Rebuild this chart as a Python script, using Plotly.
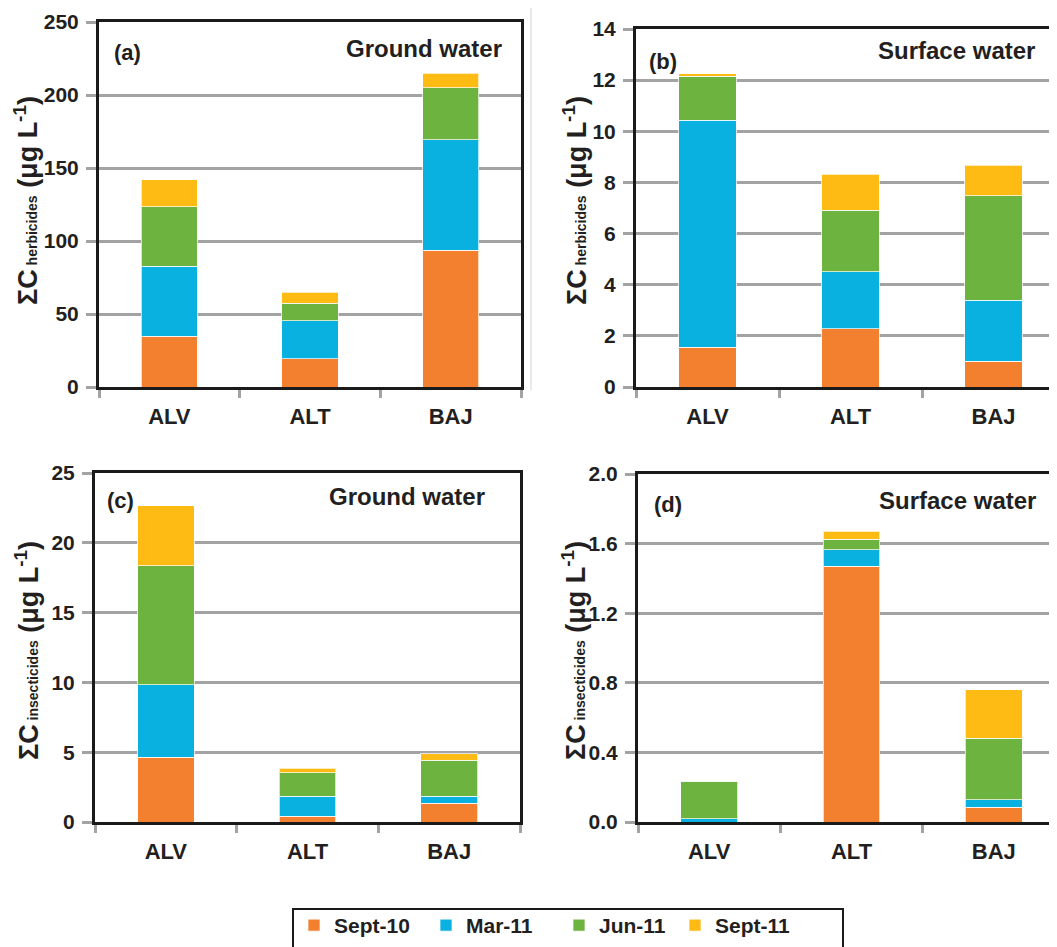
import plotly.graph_objects as go

W, H = 1057, 947
OFF = 8  # page body margin offset of the rendered figure

sites = ["ALV", "ALT", "BAJ"]
campaigns = ["Sept-10", "Mar-11", "Jun-11", "Sept-11"]
colors = ["#F3802F", "#08B1DF", "#6DB33F", "#FDBB14"]

# (a) herbicides, ground water
herb_gw_sep10 = [34.7, 19.2, 93.8]
herb_gw_mar11 = [47.9, 26.2, 75.4]
herb_gw_jun11 = [40.9, 12.1, 35.8]
herb_gw_sep11 = [18.5, 7.3, 9.8]
# (b) herbicides, surface water
herb_sw_sep10 = [1.56, 2.27, 1.00]
herb_sw_mar11 = [8.87, 2.23, 2.39]
herb_sw_jun11 = [1.72, 2.41, 4.08]
herb_sw_sep11 = [0.10, 1.41, 1.20]
# (c) insecticides, ground water
ins_gw_sep10 = [4.63, 0.40, 1.33]
ins_gw_mar11 = [5.21, 1.45, 0.52]
ins_gw_jun11 = [8.51, 1.69, 2.57]
ins_gw_sep11 = [4.30, 0.31, 0.48]
# (d) insecticides, surface water
ins_sw_sep10 = [0.0, 1.47, 0.086]
ins_sw_mar11 = [0.02, 0.094, 0.042]
ins_sw_jun11 = [0.215, 0.06, 0.353]
ins_sw_sep11 = [0.0, 0.046, 0.279]

panels = [
    dict(series=[herb_gw_sep10, herb_gw_mar11, herb_gw_jun11, herb_gw_sep11],
         label="(a)", water="Ground water", ymax=250, dtick=50, fmt="d",
         yname="herbicides"),
    dict(series=[herb_sw_sep10, herb_sw_mar11, herb_sw_jun11, herb_sw_sep11],
         label="(b)", water="Surface water", ymax=14, dtick=2, fmt="d",
         yname="herbicides"),
    dict(series=[ins_gw_sep10, ins_gw_mar11, ins_gw_jun11, ins_gw_sep11],
         label="(c)", water="Ground water", ymax=25, dtick=5, fmt="d",
         yname="insecticides"),
    dict(series=[ins_sw_sep10, ins_sw_mar11, ins_sw_jun11, ins_sw_sep11],
         label="(d)", water="Surface water", ymax=2.0, dtick=0.4, fmt=".1f",
         yname="insecticides"),
]

def px(x):
    return (x - OFF) / W

def py(y):
    return 1 - (y - OFF) / H

# layout geometry (screen pixels)
geo = [
    dict(x0=99, x1=521, y0=22, y1=387, xr=[-0.5, 2.5], mirror_y=True,
         lab=(112, 52), wat=(504, 48), ytit=(26, 201)),
    dict(x0=636, x1=W + OFF, y0=29, y1=387, xr=[-0.5, 2.5], mirror_y=False,
         lab=(647, 61), wat=(1037, 51), ytit=(575, 201)),
    dict(x0=95, x1=520, y0=473, y1=822, xr=[-0.5, 2.5], mirror_y=True,
         lab=(105, 500), wat=(487, 496), ytit=(27, 651)),
    dict(x0=638, x1=W + OFF, y0=474, y1=822, xr=[-0.5, 2.5], mirror_y=False,
         lab=(652, 504), wat=(1038, 501), ytit=(574, 651)),
]
legend_widths = [87, 88, 71, 82]

FONT = "Liberation Sans, Arial, sans-serif"
TXT = "#231F20"
GRID = "#A3A3A3"

fig = go.Figure()
layout = dict(
    width=W, height=H, margin=dict(l=0, r=0, t=0, b=0, autoexpand=False),
    paper_bgcolor="white", plot_bgcolor="white",
    barmode="stack", bargap=0.6,
    font=dict(family=FONT, color=TXT),
    showlegend=True,
    legend=dict(orientation="h", x=px(294), xanchor="left", y=py(905), yanchor="top",
                font=dict(family=FONT, size=21, color=TXT, weight="bold"),
                borderwidth=0, bgcolor="rgba(0,0,0,0)",
                traceorder="normal"),
)
annotations = []
shapes = []

for i, (p, g) in enumerate(zip(panels, geo)):
    n = "" if i == 0 else str(i + 1)
    xa, ya = "x" + n, "y" + n
    for j, (vals, name, col) in enumerate(zip(p["series"], campaigns, colors)):
        fig.add_trace(go.Bar(
            x=sites, y=vals, name=name, xaxis=xa, yaxis=ya,
            marker=dict(color=col, line=dict(color="rgba(255,255,255,0.7)", width=1)),
            width=0.4, legendgroup=name, showlegend=(i == 0),
            legendwidth=legend_widths[j],
        ))
    layout["xaxis" + n] = dict(
        domain=[px(g["x0"]), min(1.0, px(g["x1"]))], anchor=ya, type="category",
        range=g["xr"], tickson="boundaries", ticks="outside", ticklen=8, tickwidth=3,
        tickcolor=GRID, showline=True, linecolor="#1A1A1A", linewidth=3, mirror=True,
        showgrid=False, zeroline=False, automargin=False,
        tickfont=dict(family=FONT, size=22, color=TXT, weight="bold"),
        ticklabelstandoff=8,
    )
    layout["yaxis" + n] = dict(
        domain=[py(g["y1"]), py(g["y0"])], anchor=xa, range=[0, p["ymax"]],
        dtick=p["dtick"], tick0=0, tickformat=p["fmt"], ticks="outside", ticklen=10,
        tickwidth=3, tickcolor=GRID, showline=True, linecolor="#1A1A1A", linewidth=3,
        mirror=g["mirror_y"], showgrid=True, gridcolor=GRID, gridwidth=2.5,
        zeroline=False, automargin=False,
        tickfont=dict(family=FONT, size=21, color=TXT, weight="bold"),
        ticklabelstandoff=3,
    )
    annotations.append(dict(
        text=p["label"], xref="paper", yref="paper", x=px(g["lab"][0]), y=py(g["lab"][1]),
        xanchor="left", yanchor="middle", showarrow=False,
        font=dict(family=FONT, size=22, color=TXT, weight="bold")))
    annotations.append(dict(
        text=p["water"], xref="paper", yref="paper", x=px(g["wat"][0]), y=py(g["wat"][1]),
        xanchor="right", yanchor="middle", showarrow=False,
        font=dict(family=FONT, size=24, color=TXT, weight="bold")))
    annotations.append(dict(
        text="ΣC<span style='font-size:14px'> " + p["yname"] + "</span> (μg L<sup>-1</sup>)",
        xref="paper", yref="paper", x=px(g["ytit"][0]), y=py(g["ytit"][1]),
        xanchor="center", yanchor="middle", textangle=-90, showarrow=False,
        font=dict(family=FONT, size=27, color=TXT, weight="bold")))

# legend frame
shapes.append(dict(type="rect", xref="paper", yref="paper",
                   x0=px(293), x1=px(843), y0=py(960), y1=py(909),
                   line=dict(color="#1A1A1A", width=2), fillcolor="rgba(0,0,0,0)"))
# faint separator line in top row
shapes.append(dict(type="line", xref="paper", yref="paper",
                   x0=px(531), x1=px(531), y0=py(390), y1=py(OFF),
                   line=dict(color="#D5D5D5", width=1)))

layout["annotations"] = annotations
layout["shapes"] = shapes
fig.update_layout(**layout)
fig.write_html("out.html")
